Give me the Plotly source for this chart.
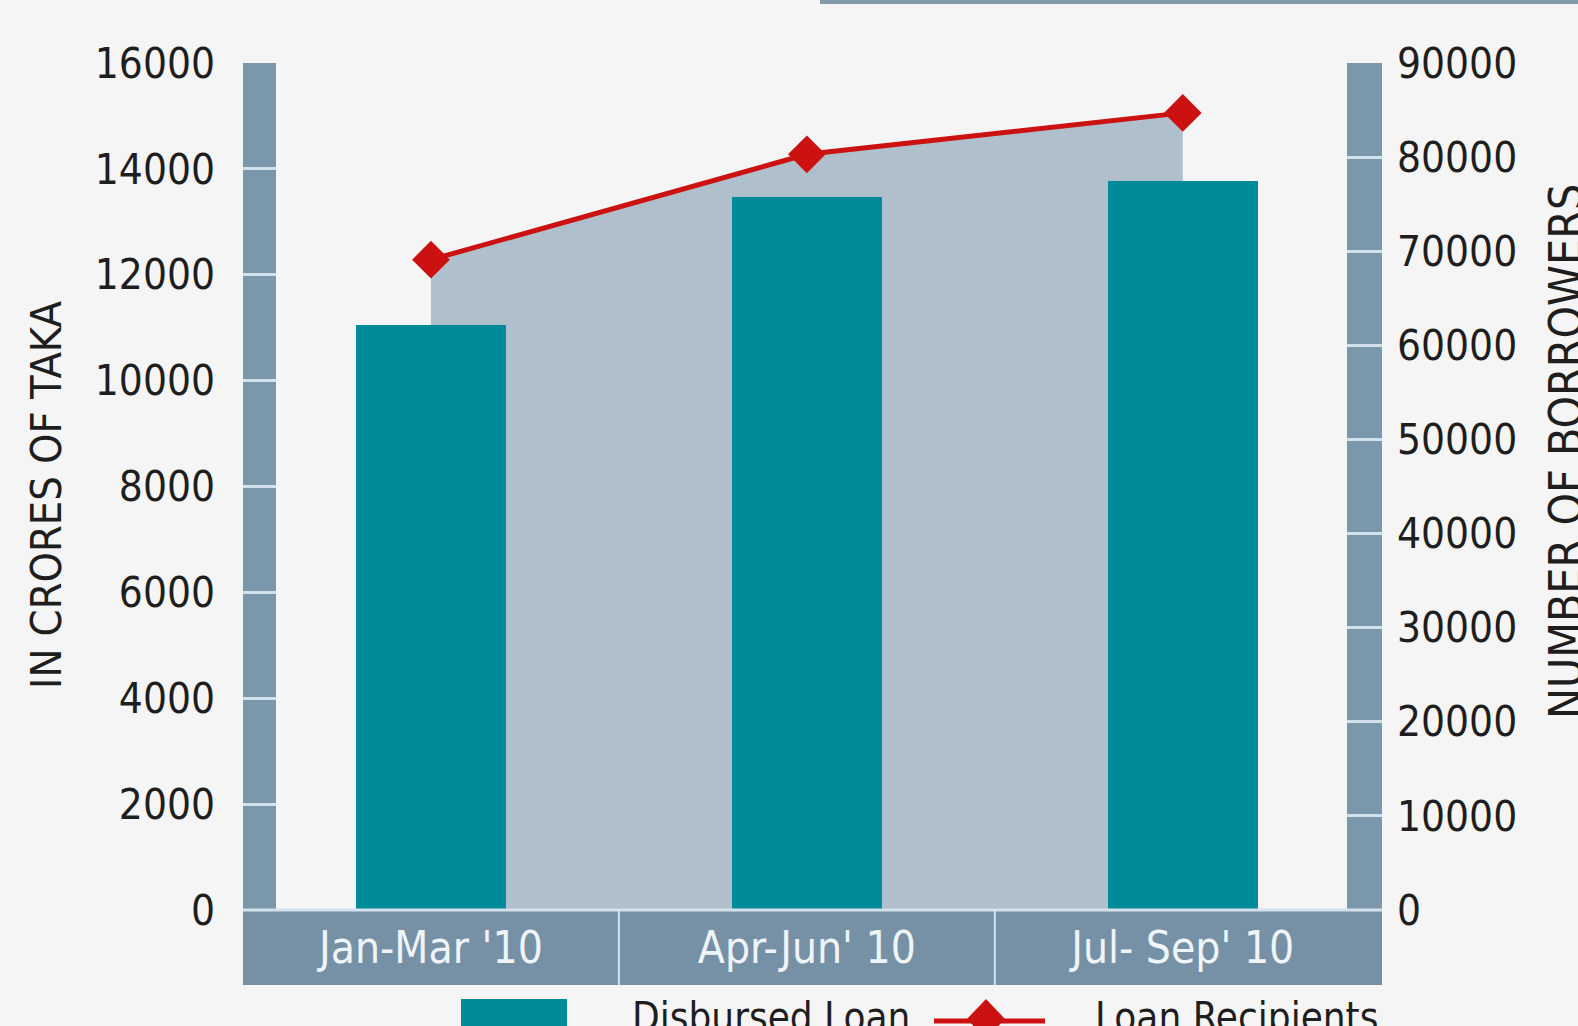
import plotly.graph_objects as go

categories = ["Jan-Mar '10", "Apr-Jun' 10", "Jul- Sep' 10"]
disbursed_loan = [11050, 13460, 13770]          # crores of taka (left axis)
loan_recipients = [69100, 80300, 84700]         # number of borrowers (right axis)
left_ticks = [0, 2000, 4000, 6000, 8000, 10000, 12000, 14000, 16000]
right_ticks = [0, 10000, 20000, 30000, 40000, 50000, 60000, 70000, 80000, 90000]
left_title = "IN CRORES OF TAKA"
right_title = "NUMBER OF BORROWERS"
legend_labels = ["Disbursed Loan", "Loan Recipients"]

W, H = 1578, 1026
L, R, T, B = 243, 1382, 63, 910
PW, PH = R - L, B - T


def px(xp):
    return (xp - L) / PW


def py(yp):
    return (B - yp) / PH


FONT = "Liberation Sans Narrow, Arial Narrow, DejaVu Sans Condensed, sans-serif"
BG = "#f5f5f5"
STRIP = "#7b97ab"
BAND = "#7690a5"
TEAL = "#008b98"
AREA = "#afc0cc"
RED = "#cc1111"
TICKC = "#d3e2ea"
TXT = "#1e1e1e"

lmax, rmax = left_ticks[-1], right_ticks[-1]
area_vals = [v * lmax / rmax for v in loan_recipients]

fig = go.Figure()
# shaded area under the recipients line (base subplot, beneath the bars)
fig.add_trace(go.Scatter(x=categories, y=area_vals, mode="lines", line=dict(width=0),
                         fill="tozeroy", fillcolor=AREA, hoverinfo="skip", showlegend=False))
# bars on an overlay axis with the same scale as the left axis
fig.add_trace(go.Bar(x=categories, y=disbursed_loan, yaxis="y3",
                     marker=dict(color=TEAL, line=dict(width=0)),
                     width=0.40, name=legend_labels[0], showlegend=False))
fig.add_trace(go.Scatter(x=categories, y=loan_recipients, yaxis="y2", mode="lines+markers",
                         line=dict(color=RED, width=5),
                         marker=dict(symbol="diamond", size=29, color=RED),
                         name=legend_labels[1], showlegend=False))

shapes = [
    dict(type="rect", xref="paper", yref="paper", x0=0, x1=px(276), y0=0, y1=1,
         fillcolor=STRIP, line=dict(width=0), layer="below"),
    dict(type="rect", xref="paper", yref="paper", x0=px(1347), x1=1, y0=0, y1=1,
         fillcolor=STRIP, line=dict(width=0), layer="below"),
    dict(type="rect", xref="paper", yref="paper", x0=0, x1=1, y0=py(985), y1=0,
         fillcolor=BAND, line=dict(width=0), layer="below"),
    dict(type="line", xref="paper", yref="paper", x0=0, x1=1, y0=0, y1=0,
         line=dict(color=TICKC, width=3)),
    dict(type="line", xref="x", yref="paper", x0=0.5, x1=0.5, y0=py(985), y1=0,
         line=dict(color=TICKC, width=2)),
    dict(type="line", xref="x", yref="paper", x0=1.5, x1=1.5, y0=py(985), y1=0,
         line=dict(color=TICKC, width=2)),
    dict(type="rect", xref="paper", yref="paper", x0=px(820), x1=px(1578), y0=py(0), y1=py(4),
         fillcolor="#8299aa", line=dict(width=0), layer="below"),
    # legend swatch
    dict(type="rect", xref="paper", yref="paper", x0=px(461), x1=px(567), y0=py(1030), y1=py(999),
         fillcolor=TEAL, line=dict(width=0)),
    # legend line + diamond
    dict(type="line", xref="paper", yref="paper", x0=px(934), x1=px(1045), y0=py(1021), y1=py(1021),
         line=dict(color=RED, width=5)),
    dict(type="path", xref="paper", yref="paper", xsizemode="pixel", ysizemode="pixel",
         xanchor=px(986), yanchor=py(1019),
         path="M -19 0 L 0 20 L 19 0 L 0 -20 Z", fillcolor=RED, line=dict(width=0)),
]

annotations = [
    dict(text=left_title, xref="paper", yref="paper", x=px(46), y=py(495), textangle=-90,
         showarrow=False, xanchor="center", yanchor="middle",
         font=dict(family=FONT, size=43, color=TXT)),
    dict(text=right_title, xref="paper", yref="paper", x=px(1566), y=py(452), textangle=-90,
         showarrow=False, xanchor="center", yanchor="middle",
         font=dict(family=FONT, size=46, color=TXT)),
    dict(text=legend_labels[0], xref="paper", yref="paper", x=px(630), y=py(1017),
         showarrow=False, xanchor="left", yanchor="middle",
         font=dict(family=FONT, size=40, color=TXT)),
    dict(text=legend_labels[1], xref="paper", yref="paper", x=px(1093), y=py(1017),
         showarrow=False, xanchor="left", yanchor="middle",
         font=dict(family=FONT, size=40, color=TXT)),
]

fig.update_layout(
    width=W, height=H,
    margin=dict(l=L, r=W - R, t=T, b=H - B, pad=0),
    paper_bgcolor=BG, plot_bgcolor="rgba(0,0,0,0)",
    showlegend=False, bargap=0,
    shapes=shapes, annotations=annotations,
    xaxis=dict(type="category", range=[-0.5, 2.53], showgrid=False, zeroline=False,
               showline=False, ticks="", tickfont=dict(family=FONT, size=44, color="#eef4f8"),
               ticklabelstandoff=8, fixedrange=True),
    yaxis=dict(range=[0, lmax], tickvals=left_ticks, tickformat="d", ticks="inside",
               ticklen=33, tickwidth=3, tickcolor=TICKC, showgrid=False, zeroline=False,
               showline=False, tickfont=dict(family=FONT, size=42, color=TXT),
               ticklabelstandoff=27),
    yaxis2=dict(range=[0, rmax], tickvals=right_ticks, tickformat="d", overlaying="y",
                side="right", ticks="inside", ticklen=35, tickwidth=3, tickcolor=TICKC,
                showgrid=False, zeroline=False, showline=False,
                tickfont=dict(family=FONT, size=42, color=TXT), ticklabelstandoff=14),
    yaxis3=dict(range=[0, lmax], overlaying="y", visible=False, showgrid=False,
                zeroline=False),
)

fig.write_html(
    "out.html",
    config={"displayModeBar": False},
    post_script="document.body.style.margin='0';document.body.style.background='#f5f5f5';",
)
